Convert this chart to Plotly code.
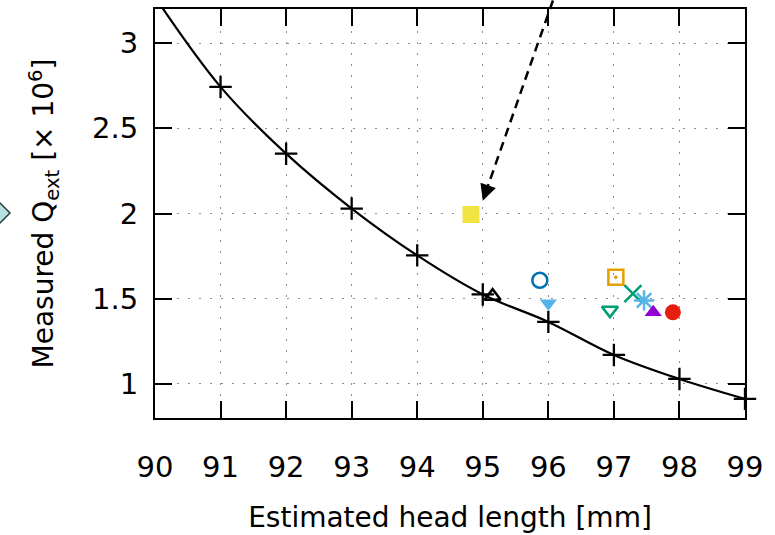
import plotly.graph_objects as go

# ---- data ----
curve_x = [90, 91, 92, 93, 94, 95, 96, 97, 98, 99]
curve_y = [3.27, 2.743, 2.351, 2.029, 1.754, 1.525, 1.364, 1.170, 1.029, 0.912]
marker_x = [91, 92, 93, 94, 95, 96, 97, 98, 99]
marker_y = [2.743, 2.351, 2.029, 1.754, 1.525, 1.364, 1.170, 1.029, 0.912]

pt_x = [94.82, 95.15, 95.87, 96.00, 96.94, 97.03, 97.29, 97.46, 97.60, 97.90]
pt_y = [1.994, 1.515, 1.608, 1.474, 1.433, 1.626, 1.530, 1.490, 1.420, 1.420]
pt_symbol = ["square", "triangle-up-open", "circle-open", "triangle-down",
             "triangle-down-open", "square-open-dot", "x-thin", "asterisk",
             "triangle-up", "circle"]
pt_color = ["#f0e442", "#000000", "#0072b2", "#56b4e9", "#009e73",
            "#e69f00", "#009e73", "#56b4e9", "#9400d3", "#e51e10"]
pt_size = [17, 14, 15, 15, 14, 15, 17, 17, 15, 16]

x_ticks = [90, 91, 92, 93, 94, 95, 96, 97, 98, 99]
y_ticks = [1, 1.5, 2, 2.5, 3]
x_range = [90, 99]
y_range = [0.8, 3.2]

arrow_tail = (96.07, 3.25)
arrow_head = (95.0, 2.075)

FONT = "DejaVu Sans"

fig = go.Figure()
fig.add_trace(go.Scatter(x=curve_x, y=curve_y, mode="lines",
                         line=dict(color="black", width=2.2, shape="spline"),
                         hoverinfo="skip", showlegend=False))
fig.add_trace(go.Scatter(x=marker_x, y=marker_y, mode="markers",
                         marker=dict(symbol="cross-thin", size=16,
                                     line=dict(color="black", width=2.3)),
                         cliponaxis=False, showlegend=False))
for x, y, s, c, z in zip(pt_x, pt_y, pt_symbol, pt_color, pt_size):
    thin = s in ("x-thin", "asterisk")
    fig.add_trace(go.Scatter(
        x=[x], y=[y], mode="markers", showlegend=False, cliponaxis=False,
        marker=dict(symbol=s, size=z, color=c,
                    line=dict(color=c, width=2.5 if (thin or "open" in s) else 0))))


def to_paper(x, y):
    return ((x - x_range[0]) / (x_range[1] - x_range[0]),
            (y - y_range[0]) / (y_range[1] - y_range[0]))


# dashed arrow (drawn in paper units so it can run past the top frame)
hx, hy = arrow_head
tx, ty = arrow_tail
px0, py0 = to_paper(tx, ty)
px1, py1 = to_paper(hx + 0.08 * (tx - hx), hy + 0.08 * (ty - hy))
fig.add_shape(type="line", xref="paper", yref="paper",
              x0=px0, y0=py0, x1=px1, y1=py1,
              line=dict(color="black", width=2.5, dash="9px,6px"))
fig.add_annotation(x=hx, y=hy, xref="x", yref="y", axref="x", ayref="y",
                   ax=hx + 0.09 * (tx - hx), ay=hy + 0.09 * (ty - hy),
                   text="", showarrow=True, arrowhead=2, arrowsize=1.3,
                   arrowwidth=2.5, arrowcolor="black")

# partial diamond at left edge (cropped neighbour element)
fig.add_shape(type="path", xref="paper", yref="paper", xsizemode="pixel",
              ysizemode="pixel", xanchor=0, yanchor=0,
              path="M -171,205 L -158,218 L -145,205 L -158,192 Z",
              fillcolor="#b7e1e0", line=dict(color="#2a3a3a", width=1.5))

axis_common = dict(
    showline=True, linecolor="black", linewidth=2, mirror="allticks",
    ticks="inside", ticklen=17, tickwidth=2, tickcolor="black",
    showgrid=True, gridcolor="#909090", gridwidth=1.3, griddash="2px,9px",
    zeroline=False, tickfont=dict(family=FONT, size=29, color="black"),
)
fig.update_xaxes(range=x_range, tickvals=x_ticks, ticktext=[str(v) for v in x_ticks],
                 ticklabelstandoff=22,
                 title=dict(text="Estimated head length [mm]",
                            font=dict(family=FONT, size=28, color="black"), standoff=25),
                 **axis_common)
fig.update_yaxes(range=y_range, tickvals=y_ticks, ticktext=["1", "1.5", "2", "2.5", "3"],
                 ticklabelstandoff=9,
                 title=dict(text="Measured Q<sub>ext</sub> [× 10<sup>6</sup>]",
                            font=dict(family=FONT, size=28, color="black"), standoff=30),
                 **axis_common)
fig.update_layout(width=775, height=535, margin=dict(l=155, r=30, t=7, b=117),
                  plot_bgcolor="white", paper_bgcolor="white",
                  font=dict(family=FONT))
fig.write_html("out.html")
